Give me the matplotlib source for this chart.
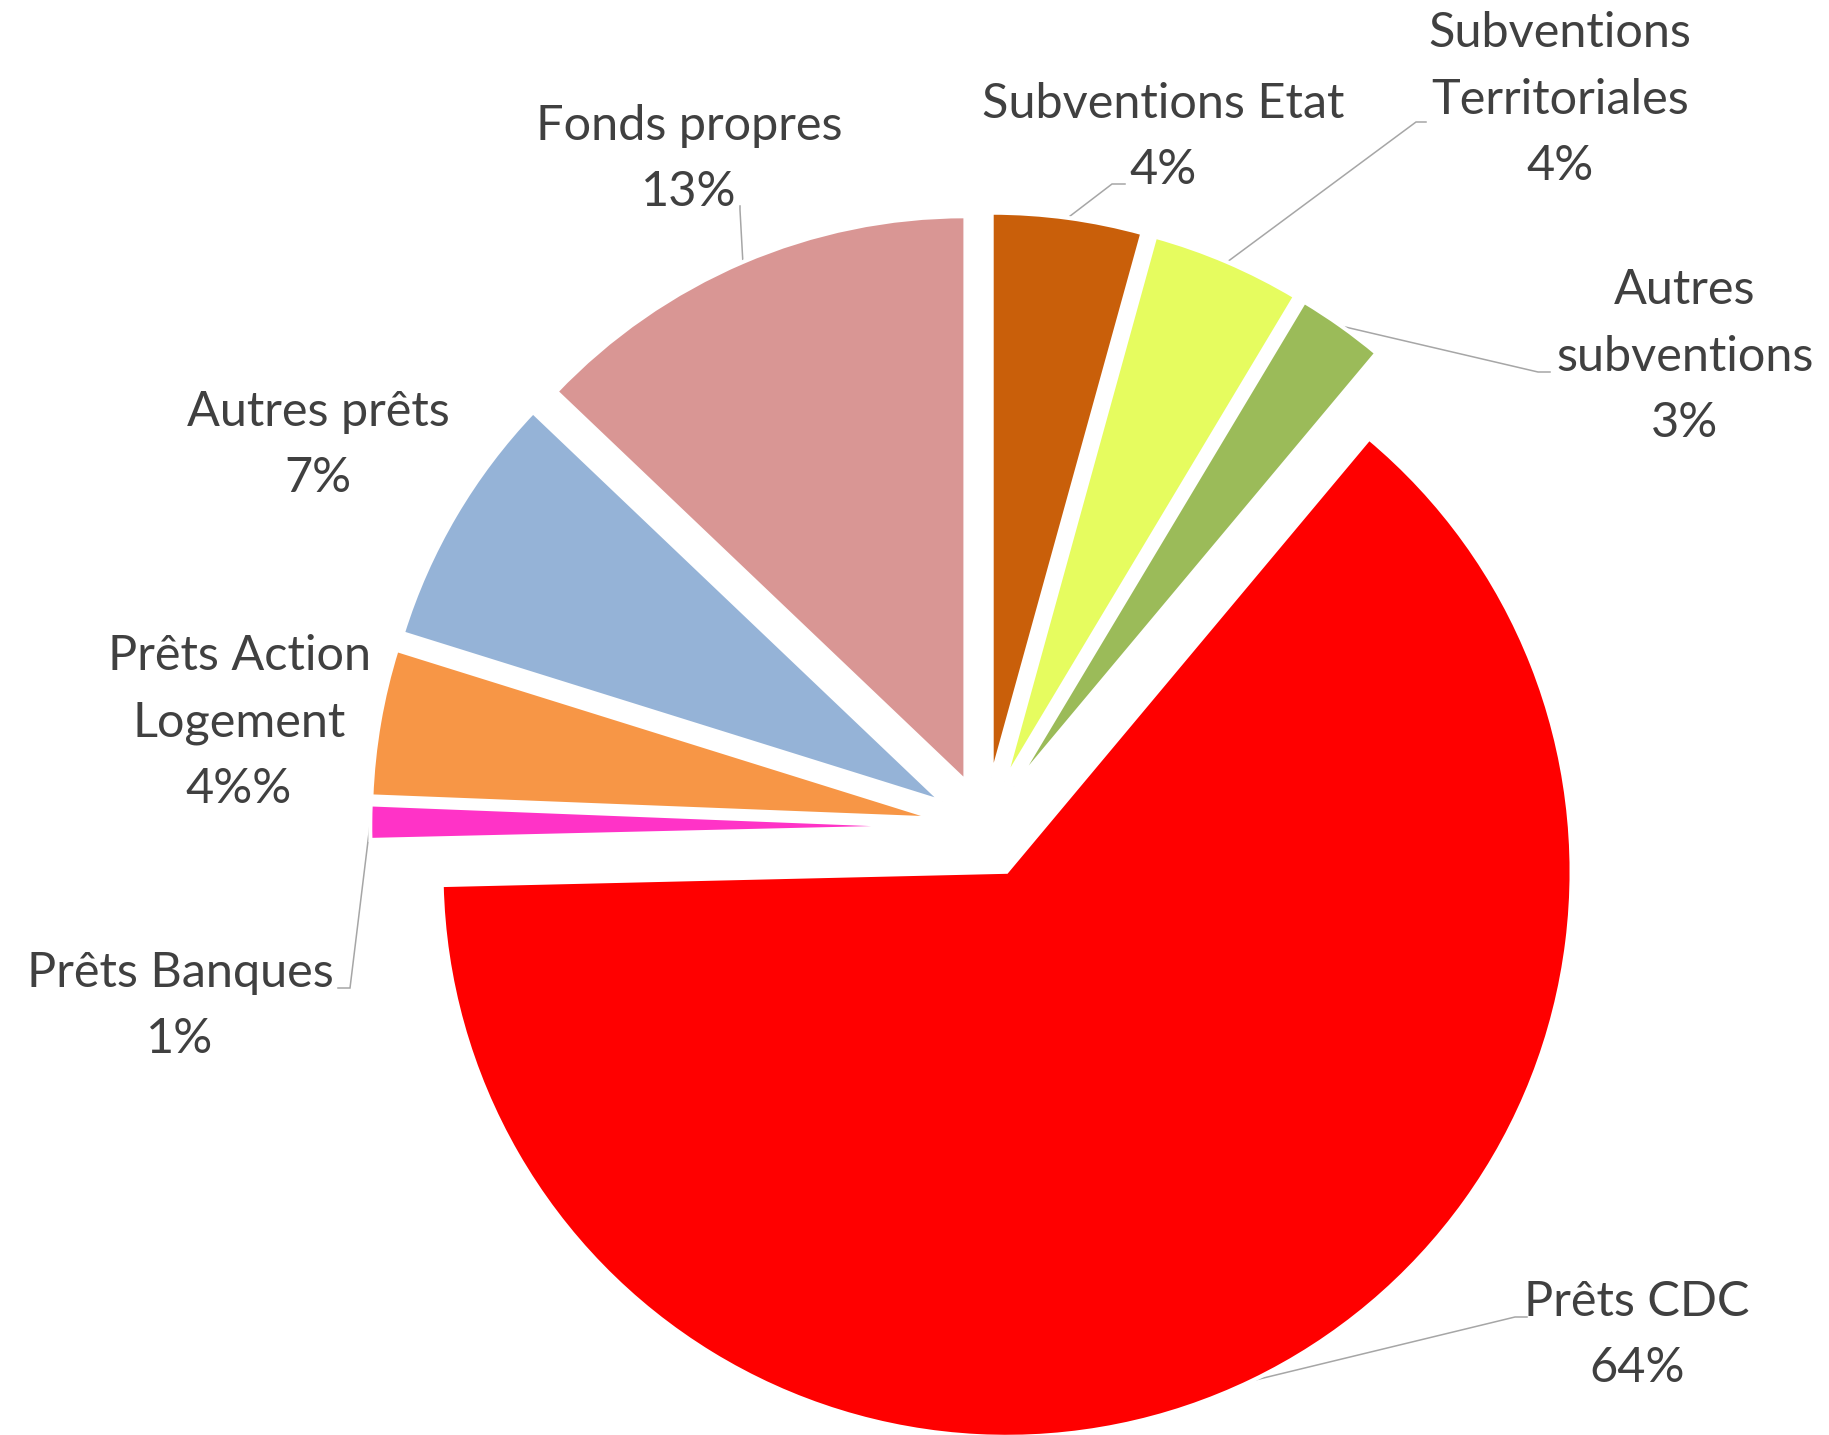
#!/usr/bin/env python
#-*- coding: utf-8 -*-

import matplotlib
matplotlib.use('Agg')
import matplotlib.pyplot as plt
import numpy as np

## ==== Data ====
labels  = ['Subventions Etat', 'Subventions\nTerritoriales', 'Autres\nsubventions', 'Prêts CDC',
           'Prêts Banques', 'Prêts Action\nLogement', 'Autres prêts', 'Fonds propres']
shares  = [4.3, 4.3, 2.5, 63.6, 1.0, 4.2, 7.3, 12.9]
pct_txt = ['4%', '4%', '3%', '64%', '1%', '4%%', '7%', '13%']
colors  = ['#C95F0A', '#E6FC5F', '#9BBB59', '#FF0000', '#FF33C7', '#F79646', '#95B3D7', '#D99694']

## ==== Layout, in picture pixels (y pointing down) ====
W, H = 1829, 1435
center = (985, 827)
radius = 565
explode = 0.088          ## fraction of the radius
## (x centre, baseline of the last line) of each label
label_xy = [(1163, 184), (1560, 180), (1685, 437), (1637, 1382),
            (180, 1053), (239, 803), (318, 492), (689, 206)]
leader_xy = [((1112, 184), (1125, 184)), ((1416, 122), (1426, 122)), ((1538, 372), (1550, 372)),
             ((1515, 1317), (1527, 1317)), ((350, 988), (338, 988)), None, None,
             ((740, 210), (740, 206))]

plt.rcParams['font.family'] = ['Lato', 'DejaVu Sans']
fig = plt.figure(figsize=(W/100., H/100.), dpi=100)
ax = fig.add_axes([0, 0, 1, 1])

## pie() adds explode straight to the centre, so give it in data units
ax.pie(shares, colors=colors, startangle=90, counterclock=False,
       explode=[explode*radius]*len(shares), radius=radius, center=(center[0], H - center[1]),
       wedgeprops=dict(edgecolor='white', linewidth=2.9))

## bisector of each slice, clockwise from 12 o'clock
frac = np.array(shares) / np.sum(shares)
mid = 360. * (np.cumsum(frac) - frac/2.)

for i, lab in enumerate(labels):
    x, y = label_xy[i]
    ax.text(x, H - y, lab + '\n' + pct_txt[i], ha='center', va='baseline',
            fontsize=35, color='#404040', linespacing=1.62)
    if leader_xy[i] is None:
        continue
    th = np.radians(mid[i])
    sx = center[0] + radius*(1 + explode)*np.sin(th)
    sy = center[1] - radius*(1 + explode)*np.cos(th)
    (ex, ey), (hx, hy) = leader_xy[i]
    ax.plot([sx, ex, hx], [H - sy, H - ey, H - hy], color='#A6A6A6', lw=1.1,
            solid_joinstyle='miter', zorder=0)

ax.set_xlim(0, W); ax.set_ylim(0, H)
ax.set_aspect('equal')
ax.axis('off')

plt.savefig('out.png', dpi=100)
